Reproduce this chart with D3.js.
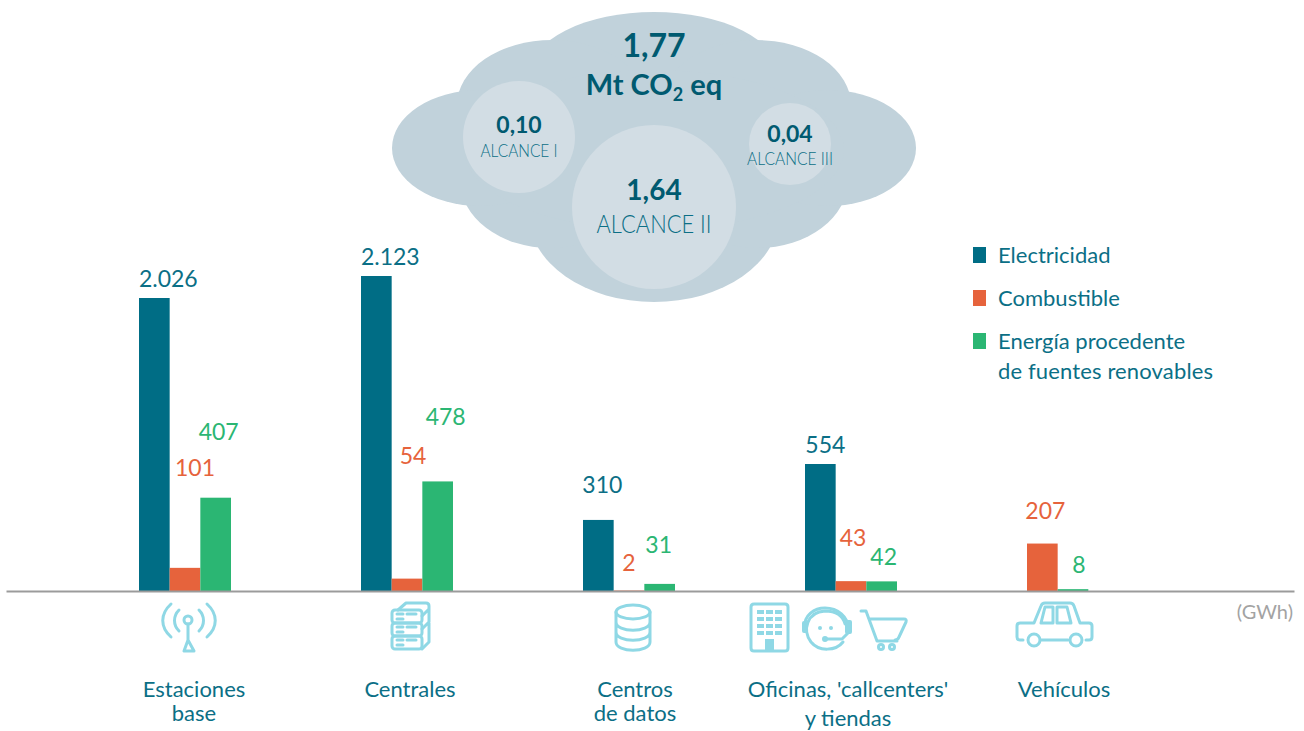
<!DOCTYPE html>
<html>
<head>
<meta charset="utf-8">
<script src="https://cdn.jsdelivr.net/npm/d3@7"></script>
<style>
  html, body { margin: 0; padding: 0; background: #fff; }
  svg { display: block; }
  text { font-family: "Lato", sans-serif; }
  .icon * { fill: none; stroke: #8fd8e5; stroke-width: 3; stroke-linecap: round; stroke-linejoin: round; }
  .icon .solid { fill: #8fd8e5; stroke: none; }
</style>
</head>
<body>
<div id="wrapper"></div>
<script>
const categories = ["Estaciones base", "Centrales", "Centros de datos", "Oficinas", "Vehículos"]
const categoryLines = [["Estaciones", "base"], ["Centrales"], ["Centros", "de datos"], ["Oficinas, 'callcenters'", "y tiendas"], ["Vehículos"]]
const seriesNames = ["Electricidad", "Combustible", "Energía procedente"]

const electricidad = [2026, 2123, 310, 554, null]
const combustible = [101, 54, 2, 43, 207]
const renovables = [407, 478, 31, 42, 8]

const cloudTotal = "1,77"
const scopeValues = ["0,10", "1,64", "0,04"]
const scopeNames = ["ALCANCE I", "ALCANCE II", "ALCANCE III"]

// label placement relative to the bar: dx from bar centre, dy from bar top
const labelDx = [[14, 14, 4, 5, 0], [10, 6, 0, 2, 3], [3, 8, -1, 2, 6]]
const labelDy = [[-11, -11, -27, -11, 0], [-92, -115, -20, -35, -25], [-58, -56, -31, -16, -16]]
const categoryLabelX = [194, 410, 635, 848, 1064]

const colors = ["#006d85", "#e6633c", "#2bb673"]
const darkText = "#005a70"
const tealText = "#0b6f86"

const dimensions = { width: 1304, height: 731, baseline: 591 }

const svg = d3.select("#wrapper").append("svg")
    .attr("width", dimensions.width)
    .attr("height", dimensions.height)

// Scales
const xGroup = d3.scalePoint().domain(categories).range([139, 1027])
const xSlot = d3.scaleBand().domain([0, 1, 2]).range([0, 92])
// the two tallest bars are drawn with a break in the reference, hence the piecewise domain
const yScale = d3.scaleLinear()
    .domain([0, 554, 2026, 2123])
    .range([dimensions.baseline, 464, 298, 276])
const fmt = d3.formatLocale({ decimal: ",", thousands: ".", grouping: [3], currency: ["", ""] }).format(",d")

// Cloud
const cloud = svg.append("g").attr("fill", "#c1d2db")
const lobes = [
    [654, 75, 125, 63], [654, 215, 125, 87],
    [552, 105, 95, 65], [756, 105, 95, 65],
    [550, 180, 90, 68], [758, 180, 90, 68],
    [480, 148, 88, 58], [828, 148, 88, 58],
    [654, 150, 190, 80],
]
cloud.selectAll("ellipse").data(lobes).join("ellipse")
    .attr("cx", d => d[0]).attr("cy", d => d[1]).attr("rx", d => d[2]).attr("ry", d => d[3])

const scopeCircles = [[519, 137, 56], [654, 207, 82], [790, 144, 41]]
svg.append("g").selectAll("circle").data(scopeCircles).join("circle")
    .attr("cx", d => d[0]).attr("cy", d => d[1]).attr("r", d => d[2]).attr("fill", "#d2dde4")

const centerText = (x, y, txt, size, weight, fill) => svg.append("text")
    .attr("x", x).attr("y", y).attr("text-anchor", "middle")
    .attr("font-size", size).attr("font-weight", weight).attr("fill", fill).text(txt)

centerText(654, 57, cloudTotal, 32, 700, darkText)
const co2 = centerText(654, 95, "Mt CO", 29, 700, darkText)
co2.append("tspan").attr("font-size", 18).attr("dy", 6).text("2")
co2.append("tspan").attr("dy", -6).text(" eq")

// the scope names are squeezed to the narrow width they have in the reference
const scopeText = (x, y, txt, size, len) => centerText(x, y, txt, size, 300, tealText)
    .attr("textLength", len).attr("lengthAdjust", "spacingAndGlyphs")

centerText(519, 133, scopeValues[0], 23, 700, darkText)
scopeText(519, 157, scopeNames[0], 17, 77)
centerText(654, 200, scopeValues[1], 28, 700, darkText)
scopeText(654, 233, scopeNames[1], 25, 115)
centerText(790, 142, scopeValues[2], 23, 700, darkText)
scopeText(790, 165, scopeNames[2], 17, 86)

// Bars
const barData = categories.flatMap((c, i) => {
    const values = [electricidad[i], combustible[i], renovables[i]]
    let slot = 0
    const out = []
    values.forEach((v, s) => {
        if (v === null) return
        out.push({ category: c, cat: i, series: s, value: v, slot: slot++ })
    })
    return out
})
const barX = d => xGroup(d.category) + xSlot(d.slot)

svg.append("g").selectAll("rect").data(barData).join("rect")
    .attr("x", barX)
    .attr("y", d => yScale(d.value))
    .attr("width", xSlot.bandwidth())
    .attr("height", d => dimensions.baseline - yScale(d.value))
    .attr("fill", d => colors[d.series])

svg.append("g").selectAll("text").data(barData).join("text")
    .attr("x", d => barX(d) + xSlot.bandwidth() / 2 + labelDx[d.series][d.cat])
    .attr("y", d => yScale(d.value) + labelDy[d.series][d.cat])
    .attr("text-anchor", "middle")
    .attr("font-size", 23)
    .attr("fill", d => d.series === 0 ? tealText : colors[d.series])
    .text(d => fmt(d.value))

// Axis line
const xAxis = d3.axisBottom(d3.scaleLinear().domain([0, 1]).range([6, 1294])).tickValues([]).tickSizeOuter(0)
const axisG = svg.append("g").attr("transform", `translate(0,${dimensions.baseline})`).call(xAxis)
axisG.select(".domain").attr("stroke", "#9b9b9b").attr("stroke-width", 2)

svg.append("text").attr("x", 1293).attr("y", 619).attr("text-anchor", "end")
    .attr("font-size", 20).attr("fill", "#a3a3a3").text("(GWh)")

// Category labels, one text with a tspan per line
categoryLines.forEach((lines, i) => {
    const label = centerText(categoryLabelX[i], 697, null, 22, 400, tealText)
    lines.forEach((line, j) => {
        label.append("tspan")
            .attr("x", categoryLabelX[i])
            .attr("dy", j === 0 ? 0 : (i === 3 ? 29 : 24))
            .text(line)
    })
})

// Legend
const legendY = d3.scalePoint().domain(seriesNames).range([255, 341])
svg.append("g").selectAll("rect").data(seriesNames).join("rect")
    .attr("x", 973).attr("y", d => legendY(d) - 8).attr("width", 13).attr("height", 16)
    .attr("fill", (d, i) => colors[i])
svg.append("g").selectAll("text").data(seriesNames).join("text")
    .attr("x", 998).attr("y", d => legendY(d) + 8)
    .attr("font-size", 22).attr("fill", tealText).text(d => d)
svg.append("text").attr("x", 998).attr("y", 379).attr("font-size", 22).attr("fill", tealText)
    .attr("textLength", 215).attr("lengthAdjust", "spacing").text("de fuentes renovables")

// Icons
const icons = svg.append("g").attr("class", "icon")

// antenna
const antenna = icons.append("g")
antenna.append("path").attr("d", "M171 604 C160 614 160 627 171 637 M207 604 C218 614 218 627 207 637 M179 610 C173 616 173 625 179 631 M199 610 C205 616 205 625 199 631")
antenna.append("circle").attr("cx", 188).attr("cy", 620).attr("r", 4)
antenna.append("path").attr("d", "M188 624 V640 L184 651 H194 L188 640")

// servers
const servers = icons.append("g")
;[610, 623, 636].forEach(y => {
    servers.append("rect").attr("x", 392).attr("y", y).attr("width", 30).attr("height", 13).attr("rx", 3)
    servers.append("path").attr("d", `M397 ${y + 4} H403 M397 ${y + 9} H403 M407 ${y + 4} H416`).attr("stroke-width", 2)
})
servers.append("path").attr("d", "M398 610 L406 603 H426 Q429 603 429 606 V642 L422 649 M422 616 L429 609 M422 629 L429 622")

// database
const db = icons.append("g")
db.append("ellipse").attr("cx", 633).attr("cy", 612).attr("rx", 17).attr("ry", 7)
db.append("path").attr("d", "M616 612 V642 C616 653 650 653 650 642 V612 M616 622 C616 633 650 633 650 622 M616 632 C616 643 650 643 650 632")

// building
const building = icons.append("g")
building.append("path").attr("d", "M754 651 Q751 651 751 648 V607 Q751 604 754 604 H785 Q788 604 788 607 V648 Q788 651 785 651 Z")
building.append("g").selectAll("rect")
    .data(d3.cross([757, 766, 775], [610, 617, 624, 631]))
    .join("rect").attr("class", "solid")
    .attr("x", d => d[0]).attr("y", d => d[1]).attr("width", 7).attr("height", 4)
building.append("rect").attr("class", "solid").attr("x", 765).attr("y", 639).attr("width", 9).attr("height", 13)

// headset
const headset = icons.append("g")
headset.append("path").attr("d", "M843 642 C836 651 819 652 811 642 C802 630 807 612 825 611 C836 611 843 616 845 624").attr("stroke-width", 3.6)
headset.append("path").attr("d", "M805 628 C803 615 815 608 825 608 C838 608 848 617 848 628").attr("stroke-width", 2)
headset.append("rect").attr("class", "solid").attr("x", 802).attr("y", 621).attr("width", 6).attr("height", 12).attr("rx", 2)
headset.append("rect").attr("class", "solid").attr("x", 845).attr("y", 620).attr("width", 7).attr("height", 14).attr("rx", 2)
headset.append("path").attr("d", "M826 639 H842 L848 633").attr("stroke-width", 2)
headset.append("circle").attr("class", "solid").attr("cx", 825).attr("cy", 639).attr("r", 3)
headset.append("circle").attr("class", "solid").attr("cx", 820).attr("cy", 628).attr("r", 2)
headset.append("circle").attr("class", "solid").attr("cx", 831).attr("cy", 628).attr("r", 2)

// cart
const cart = icons.append("g")
cart.append("path").attr("d", "M861 611 H866 L877 641 H897 M869 619 H904 Q907 619 906 622 L899 637 Q898 640 895 640")
cart.append("circle").attr("cx", 881).attr("cy", 647).attr("r", 2.5)
cart.append("circle").attr("cx", 892).attr("cy", 647).attr("r", 2.5)

// car
const car = icons.append("g")
car.append("path").attr("d", "M1023 640 H1020 Q1017 640 1017 637 V626 Q1017 623 1020 623 H1034 L1041 606 Q1042 603 1045 603 H1070 Q1073 603 1074 606 L1080 623 H1089 Q1092 623 1092 626 V637 Q1092 640 1089 640 H1086")
car.append("path").attr("d", "M1041 640 H1068 M1045 607 L1041 623 H1053 V607 Z M1057 607 V623 H1071 L1067 607 Z")
car.append("circle").attr("cx", 1034).attr("cy", 640).attr("r", 6)
car.append("circle").attr("cx", 1076).attr("cy", 640).attr("r", 6)
</script>
</body>
</html>
